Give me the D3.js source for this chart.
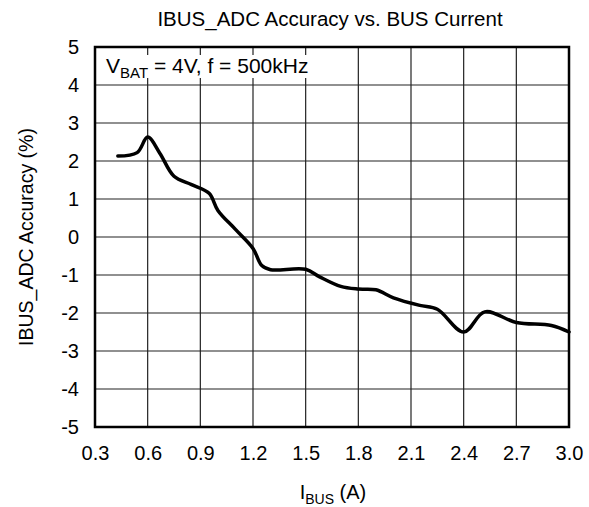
<!DOCTYPE html>
<html>
<head>
<meta charset="utf-8">
<script src="https://cdn.jsdelivr.net/npm/d3@7"></script>
<style>
  body { margin: 0; background: #fff; }
  svg text { font-family: "Liberation Sans", Arial, sans-serif; fill: #000; }
</style>
</head>
<body>
<svg id="chart" width="589" height="507"></svg>
<script>
// data
var ibus = [0.43, 0.54, 0.60, 0.67, 0.75, 0.85, 0.95, 1.0, 1.1, 1.2, 1.25, 1.3, 1.5, 1.58,
            1.7, 1.8, 1.9, 2.0, 2.15, 2.25, 2.4, 2.52, 2.7, 2.9, 3.0];
var accuracy = [2.13, 2.22, 2.63, 2.2, 1.6, 1.38, 1.15, 0.7, 0.2, -0.3, -0.75, -0.86, -0.85, -1.05,
                -1.3, -1.37, -1.39, -1.6, -1.8, -1.9, -2.5, -1.97, -2.25, -2.33, -2.5];
var xTicks = [0.3, 0.6, 0.9, 1.2, 1.5, 1.8, 2.1, 2.4, 2.7, 3.0];
var yTicks = [-5, -4, -3, -2, -1, 0, 1, 2, 3, 4, 5];

// constants
var margin = { top: 47, right: 20, bottom: 80, left: 95 },
    width = 569 - margin.left,
    height = 427 - margin.top;

var svg = d3.select("#chart");
var g = svg.append("g")
    .attr("transform", "translate(" + margin.left + "," + margin.top + ")");

var x = d3.scaleLinear().domain([0.3, 3.0]).range([0, width]);
var y = d3.scaleLinear().domain([-5, 5]).range([height, 0]);

// grid
g.append("g")
    .selectAll("line")
    .data(xTicks)
    .enter()
    .append("line")
    .attr("x1", function (d) { return x(d); })
    .attr("x2", function (d) { return x(d); })
    .attr("y1", 0)
    .attr("y2", height)
    .attr("stroke", "#222")
    .attr("stroke-width", 1.2);

g.append("g")
    .selectAll("line")
    .data(yTicks)
    .enter()
    .append("line")
    .attr("x1", 0)
    .attr("x2", width)
    .attr("y1", function (d) { return y(d); })
    .attr("y2", function (d) { return y(d); })
    .attr("stroke", "#222")
    .attr("stroke-width", 1.2);

// axes (labels only), hyphen instead of unicode minus
var xAxis = d3.axisBottom(x).tickValues(xTicks).tickSize(0).tickPadding(19)
    .tickFormat(d3.format(".1f"));
var yAxis = d3.axisLeft(y).tickValues(yTicks).tickSize(0).tickPadding(16)
    .tickFormat(function (d) { return String(d); });

g.append("g")
    .attr("transform", "translate(0," + height + ")")
    .call(xAxis)
    .call(function (s) { s.select(".domain").remove(); })
    .selectAll("text")
    .style("font-size", "20px")
    .attr("fill", "#000");

g.append("g")
    .call(yAxis)
    .call(function (s) { s.select(".domain").remove(); })
    .selectAll("text")
    .style("font-size", "20px")
    .attr("fill", "#000");

// legend box
g.append("rect")
    .attr("x", 2)
    .attr("y", 8)
    .attr("width", 222)
    .attr("height", 23)
    .attr("fill", "#fff");

var leg = g.append("text")
    .attr("x", 11)
    .attr("y", 26)
    .style("font-size", "21px");
leg.append("tspan").text("V");
leg.append("tspan").attr("dy", 5).style("font-size", "15px").text("BAT");
leg.append("tspan").attr("dy", -5).text(" = 4V, f = 500kHz");

// curve
var line = d3.line()
    .x(function (d) { return x(d[0]); })
    .y(function (d) { return y(d[1]); })
    .curve(d3.curveCatmullRom.alpha(0.5));

g.append("path")
    .datum(d3.zip(ibus, accuracy))
    .attr("d", line)
    .attr("fill", "none")
    .attr("stroke", "#000")
    .attr("stroke-width", 3.5)
    .attr("stroke-linejoin", "round")
    .attr("stroke-linecap", "round");

// frame
g.append("rect")
    .attr("width", width)
    .attr("height", height)
    .attr("fill", "none")
    .attr("stroke", "#000")
    .attr("stroke-width", 2.5);

// title and axis labels
svg.append("text")
    .attr("x", 330)
    .attr("y", 26)
    .attr("text-anchor", "middle")
    .style("font-size", "20.5px")
    .text("IBUS_ADC Accuracy vs. BUS Current");

var xl = svg.append("text")
    .attr("x", 333)
    .attr("y", 499)
    .attr("text-anchor", "middle")
    .style("font-size", "20px");
xl.append("tspan").text("I");
xl.append("tspan").attr("dy", 5).style("font-size", "14px").text("BUS");
xl.append("tspan").attr("dy", -5).text(" (A)");

svg.append("text")
    .attr("transform", "translate(33,237) rotate(-90)")
    .attr("text-anchor", "middle")
    .style("font-size", "19.5px")
    .text("IBUS_ADC Accuracy (%)");
</script>
</body>
</html>
